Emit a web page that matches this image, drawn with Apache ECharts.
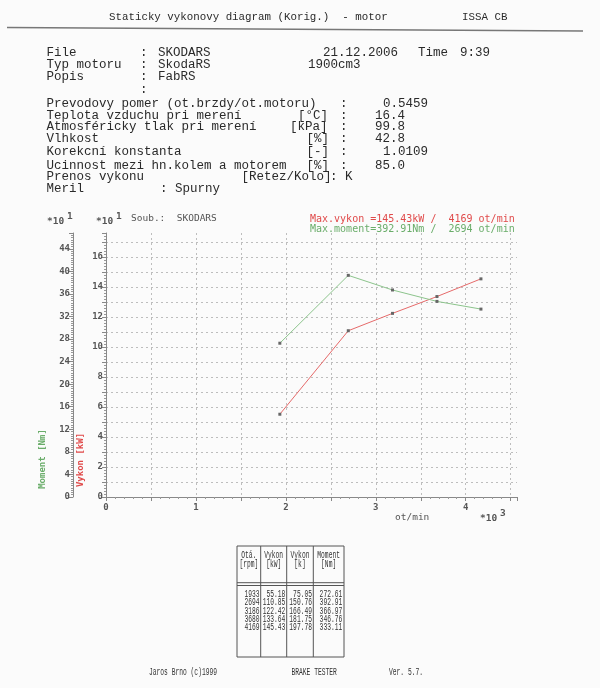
<!DOCTYPE html>
<html><head><meta charset="utf-8">
<script src="https://cdn.jsdelivr.net/npm/echarts@6/dist/echarts.min.js"></script>
<style>html,body{margin:0;padding:0;background:#fbfbfb}#c{width:600px;height:688px}</style>
</head><body><div id="c"></div>
<script>
// ---- data ----
const rpm = [1933, 2694, 3186, 3680, 4169];
const vykonKW = [55.18, 110.85, 122.42, 133.64, 145.43];
const vykonK = [75.05, 150.76, 166.49, 181.75, 197.78];
const moment = [272.61, 392.91, 366.97, 346.76, 333.11];
const xTickLabels = ['0', '1', '2', '3', '4'];
const tableHeader1 = ['Otá.', 'Vykon', 'Vykon', 'Moment'];
const tableHeader2 = ['[rpm]', '[kW]', '[k]', '[Nm]'];

const chart = echarts.init(document.getElementById('c'), null, {renderer: 'canvas'});
const mono = 'Liberation Mono';
const pix = 'DejaVu Sans Mono';
const ink = '#2a2a2a';
const G = [];
function T(text, x, y, o) {
  o = o || {};
  G.push({type: 'text', x: x, y: y, rotation: o.rot || 0, scaleX: o.sx || 1,
    style: {text: text, fill: o.color || ink, font: (o.weight || 'normal') + ' ' + (o.size || 12.5) + 'px "' + (o.family || mono) + '"',
      textAlign: o.align || 'left', textVerticalAlign: 'middle'}, z: 10});
}
function L(x1, y1, x2, y2, c, w) {
  G.push({type: 'line', shape: {x1: x1, y1: y1, x2: x2, y2: y2}, style: {stroke: c || '#555', lineWidth: w || 1}, z: 10});
}
// header
T('Staticky vykonovy diagram (Korig.)  - motor', 109, 17.5, {size: 10.8});
T('ISSA CB', 462, 17.5, {size: 10.8});
L(7, 27.5, 583, 31, '#777', 1.4);
// info block
const c1 = 46.5;
T('File', c1, 53); T(':', 140, 53); T('SKODARS', 158, 53); T('21.12.2006', 323, 53); T('Time', 418, 53); T('9:39', 460, 53);
T('Typ motoru', c1, 65); T(':', 140, 65); T('SkodaRS', 158, 65); T('1900cm3', 308, 65);
T('Popis', c1, 76.5); T(':', 140, 76.5); T('FabRS', 158, 76.5);
T(':', 140, 90);
T('Prevodovy pomer (ot.brzdy/ot.motoru)', c1, 104); T(':', 340, 104); T('0.5459', 383, 104);
T('Teplota vzduchu pri merení', c1, 115.5); T('[°C]', 298, 115.5); T(':', 340, 115.5); T('16.4', 375, 115.5);
T('Atmosféricky tlak pri merení', c1, 127); T('[kPa]', 290, 127); T(':', 340, 127); T('99.8', 375, 127);
T('Vlhkost', c1, 139); T('[%]', 306.5, 139); T(':', 340, 139); T('42.8', 375, 139);
T('Korekcní konstanta', c1, 152); T('[-]', 306.5, 152); T(':', 340, 152); T('1.0109', 383, 152);
T('Ucinnost mezi hn.kolem a motorem', c1, 166); T('[%]', 306.5, 166); T(':', 340, 166); T('85.0', 375, 166);
T('Prenos vykonu', c1, 177); T('[Retez/Kolo]', 241.5, 177); T(': K', 330, 177);
T('Meril', c1, 189); T(': Spurny', 160, 189);
// chart annotations
const cg = '#555';
T('*10', 47, 222, {family: pix, size: 9.5, weight: 'bold', color: cg});
T('1', 67, 217, {family: pix, size: 9.5, weight: 'bold', color: cg});
T('*10', 96, 222, {family: pix, size: 9.5, weight: 'bold', color: cg});
T('1', 116, 217, {family: pix, size: 9.5, weight: 'bold', color: cg});
T('Soub.:  SKODARS', 131, 219, {family: pix, size: 9.5, color: cg});
let iv = vykonKW.indexOf(Math.max.apply(null, vykonKW));
let im = moment.indexOf(Math.max.apply(null, moment));
T('Max.vykon =' + vykonKW[iv].toFixed(2) + 'kW /  ' + rpm[iv] + ' ot/min', 310, 219.5, {family: pix, size: 10, color: '#e04a4a'});
T('Max.moment=' + moment[im].toFixed(2) + 'Nm /  ' + rpm[im] + ' ot/min', 310, 229.5, {family: pix, size: 10, color: '#6aad6a'});
T('Moment [Nm]', 43, 459, {family: pix, size: 9, weight: 'bold', color: '#6aad6a', rot: Math.PI / 2, align: 'center'});
T('Vykon [kW]', 81, 460, {family: pix, size: 9, weight: 'bold', color: '#e04a4a', rot: Math.PI / 2, align: 'center'});
T('ot/min', 395, 518, {family: pix, size: 9.5, color: cg});
T('*10', 480, 519, {family: pix, size: 9.5, weight: 'bold', color: cg});
T('3', 500, 514, {family: pix, size: 9.5, weight: 'bold', color: cg});
// table
const tx = [237, 260.7, 286.7, 313.3, 344];
const tTop = 546, tBot = 657;
G.push({type: 'rect', shape: {x: tx[0], y: tTop, width: tx[4] - tx[0], height: tBot - tTop}, style: {fill: 'none', stroke: '#555', lineWidth: 1}, z: 10});
for (let i = 1; i < 4; i++) L(tx[i], tTop, tx[i], tBot, '#555', 1);
L(tx[0], 582.7, tx[4], 582.7, '#555', 1);
L(tx[0], 585.5, tx[4], 585.5, '#555', 1);
const tf = {size: 10.5, sx: 0.6, color: '#333'};
for (let i = 0; i < 4; i++) {
  const cx = (tx[i] + tx[i + 1]) / 2;
  T(tableHeader1[i], cx, 555.7, Object.assign({align: 'center'}, tf));
  T(tableHeader2[i], cx, 564.3, Object.assign({align: 'center'}, tf));
}
const rowY = [594, 602.5, 611, 619.3, 627.7];
for (let r = 0; r < rpm.length; r++) {
  T(String(rpm[r]), 259.6, rowY[r], Object.assign({align: 'right'}, tf));
  T(vykonKW[r].toFixed(2), 285.4, rowY[r], Object.assign({align: 'right'}, tf));
  T(vykonK[r].toFixed(2), 312, rowY[r], Object.assign({align: 'right'}, tf));
  T(moment[r].toFixed(2), 342.3, rowY[r], Object.assign({align: 'right'}, tf));
}
// footer
T('Jaros Brno (c)1999', 149, 672, tf);
T('BRAKE TESTER', 291.5, 672, tf);
T('Ver. 5.7.', 389, 672, tf);

const axLabel = {fontFamily: pix, fontSize: 9, fontWeight: 'bold', color: '#555'};
const dotted = {show: true, lineStyle: {color: '#bdbdbd', type: [2, 3], width: 1}, showMaxLine: false, showMinLine: false};
chart.setOption({
  animation: false,
  backgroundColor: '#fbfbfb',
  grid: {left: 106, right: 83, top: 233, bottom: 191, containLabel: false, outerBoundsMode: 'none'},
  xAxis: {
    type: 'value', min: 0, max: 4570, interval: 500,
    axisLine: {lineStyle: {color: '#888'}},
    axisTick: {show: true, length: 4, lineStyle: {color: '#888'}},
    minorTick: {show: true, splitNumber: 5, length: 2, lineStyle: {color: '#999'}},
    axisLabel: Object.assign({margin: 6, formatter: v => (v % 1000 === 0 ? xTickLabels[v / 1000] : '')}, axLabel),
    splitLine: dotted
  },
  yAxis: [
    {
      type: 'value', min: 0, max: 176, interval: 10, position: 'left',
      axisLine: {show: true, lineStyle: {color: '#888'}},
      axisTick: {show: true, length: 4, lineStyle: {color: '#888'}},
      minorTick: {show: true, splitNumber: 5, length: 2, lineStyle: {color: '#999'}},
      axisLabel: Object.assign({margin: 3, formatter: v => (v % 20 === 0 ? String(v / 10) : '')}, axLabel),
      splitLine: dotted
    },
    {
      type: 'value', min: 0, max: 468, interval: 40, position: 'left', offset: 33,
      axisLine: {show: true, lineStyle: {color: '#888'}},
      axisTick: {show: true, length: 4, lineStyle: {color: '#888'}},
      minorTick: {show: true, splitNumber: 10, length: 2, lineStyle: {color: '#999'}},
      axisLabel: Object.assign({margin: 3, formatter: v => (v % 40 === 0 ? String(v / 10) : '')}, axLabel),
      splitLine: {show: false}
    }
  ],
  series: [
    {type: 'line', yAxisIndex: 0, data: rpm.map((r, i) => [r, vykonKW[i]]),
      lineStyle: {color: '#e66a6a', width: 1}, symbol: 'rect', symbolSize: 3, itemStyle: {color: '#666'}, z: 5},
    {type: 'line', yAxisIndex: 1, data: rpm.map((r, i) => [r, moment[i]]),
      lineStyle: {color: '#8cc48c', width: 1}, symbol: 'rect', symbolSize: 3, itemStyle: {color: '#666'}, z: 5}
  ],
  graphic: G
});
</script></body></html>
